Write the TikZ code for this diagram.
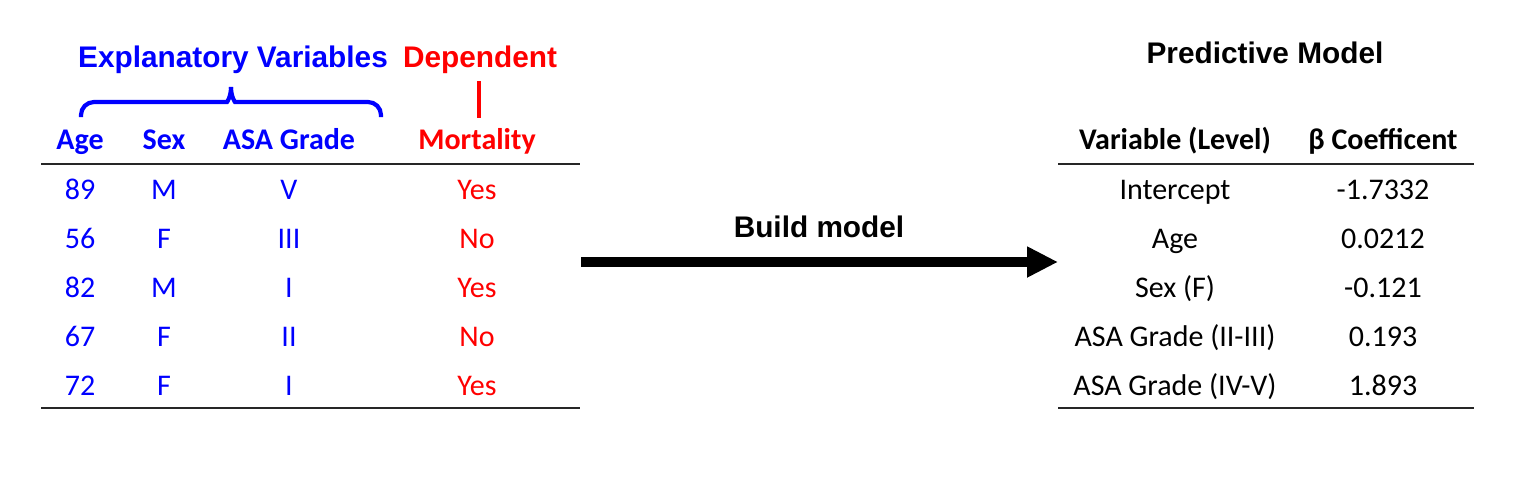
\documentclass[tikz,border=0pt]{standalone}
\usepackage{fontspec}
\setmainfont{Carlito}
\newfontfamily\arialfont{Liberation Sans}
\usetikzlibrary{arrows.meta}
\definecolor{pblue}{RGB}{0,0,255}
\definecolor{pred}{RGB}{255,0,0}
\begin{document}
\begin{tikzpicture}[x=1pt,y=-1pt,
  title/.style={font=\arialfont\bfseries\fontsize{29.8}{35}\selectfont, anchor=base, inner sep=0pt},
  head/.style={font=\bfseries\fontsize{30}{36}\selectfont, anchor=base, inner sep=0pt},
  cell/.style={font=\fontsize{30}{36}\selectfont, anchor=base, inner sep=0pt},
  rule/.style={line width=1.6pt, black!85},
  bracestyle/.style={line width=4.2pt, pblue, line cap=butt},
]
\useasboundingbox (0,0) rectangle (1536,490);

% ---------- left table ----------
\node[title, pblue] (expl) at (233,67) {Explanatory Variables};
\node[title, pred] (dep) at (480,67) {Dependent};

\draw[bracestyle, rounded corners=13pt] (81,117) |- (214,102) .. controls (227,102) and (231,97) .. (231,87);
\draw[bracestyle, rounded corners=13pt] (231,87) .. controls (231,97) and (235,102) .. (248,102) -| (381,117);
\coordinate (depA) at (479,81);
\coordinate (depB) at (479,118);
\draw[line width=4pt, pred] (depA) -- (depB);

\node[head, pblue] (hAge) at (80,149) {Age};
\node[head, pblue] (hSex) at (164,149) {Sex};
\node[head, pblue] (hAsa) at (289,149) {ASA Grade};
\node[head, pred] (hMort) at (477,149) {Mortality};

\coordinate (lt1) at (41,164); \coordinate (lt2) at (580,164);
\coordinate (lb1) at (41,408); \coordinate (lb2) at (580,408);
\draw[rule] (lt1) -- (lt2);
\draw[rule] (lb1) -- (lb2);

\foreach \yy/\a/\s/\g/\m [count=\i] in {199/89/M/V/Yes, 248/56/F/III/No, 297/82/M/I/Yes, 346/67/F/II/No, 395/72/F/I/Yes}{
  \node[cell, pblue] (age\i) at (80,\yy) {\a};
  \node[cell, pblue] (sex\i) at (164,\yy) {\s};
  \node[cell, pblue] (asa\i) at (289,\yy) {\g};
  \node[cell, pred] (mort\i) at (477,\yy) {\m};
}

% ---------- arrow ----------
\node[title] (build) at (819,237) {Build model};
\coordinate (arrS) at (581,262);
\coordinate (arrE) at (1058,262);
\draw[line width=9.5pt, -{Triangle[length=31pt,width=29pt]}] (arrS) -- (arrE);

% ---------- right table ----------
\node[title] (pm) at (1265,63) {Predictive Model};
\node[head] (hVar) at (1175,149) {Variable (Level)};
\node[head] (hCoef) at (1383,149) {β Coefficent};

\coordinate (rt1) at (1058,164); \coordinate (rt2) at (1474,164);
\coordinate (rb1) at (1058,408); \coordinate (rb2) at (1474,408);
\draw[rule] (rt1) -- (rt2);
\draw[rule] (rb1) -- (rb2);

\foreach \yy/\v/\c [count=\i] in {199/Intercept/-1.7332, 248/Age/0.0212, 297/Sex (F)/-0.121, 346/ASA Grade (II-III)/0.193, 395/ASA Grade (IV-V)/1.893}{
  \node[cell] (var\i) at (1175,\yy) {\v};
  \node[cell] (coef\i) at (1383,\yy) {\c};
}
\end{tikzpicture}
\end{document}
